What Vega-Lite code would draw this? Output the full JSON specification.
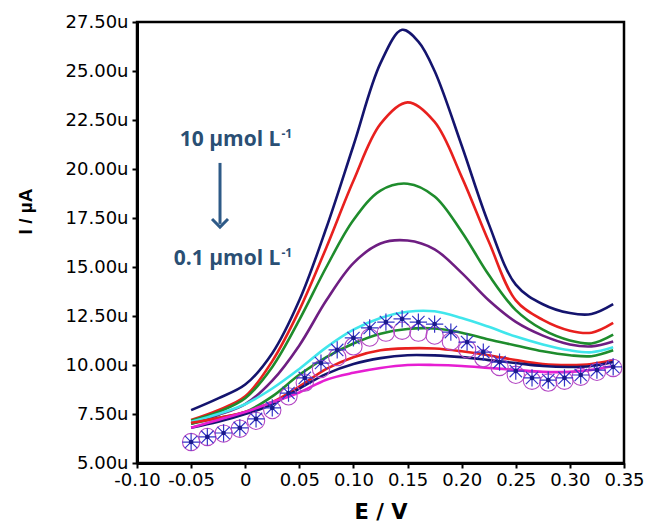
{
  "$schema": "https://vega.github.io/schema/vega-lite/v6.json",
  "autosize": "none",
  "width": 487,
  "height": 441,
  "padding": {"left": 137, "top": 22, "right": 22, "bottom": 65},
  "background": "white",
  "config": {
    "view": {"stroke": "black", "strokeWidth": 2.5},
    "axis": {"grid": false, "domainColor": "black", "domainWidth": 3, "tickColor": "black", "tickWidth": 2, "tickSize": 5, "labelFont": "DejaVu Sans", "labelFontSize": 18, "labelColor": "black", "labelOverlap": false, "labelFlush": false, "titleColor": "black"}
  },
  "datasets": {
    "lines": [
      {"s":"A","x":-0.05,"y":7.7},{"s":"A","x":-0.025,"y":8.3},{"s":"A","x":0,"y":9.0},{"s":"A","x":0.025,"y":10.6},{"s":"A","x":0.05,"y":13.3},{"s":"A","x":0.075,"y":17.0},{"s":"A","x":0.1,"y":21.2},{"s":"A","x":0.125,"y":25.4},{"s":"A","x":0.145,"y":27.1},{"s":"A","x":0.16,"y":26.5},{"s":"A","x":0.175,"y":25.0},{"s":"A","x":0.2,"y":21.2},{"s":"A","x":0.225,"y":17.2},{"s":"A","x":0.25,"y":14.1},{"s":"A","x":0.275,"y":13.1},{"s":"A","x":0.3,"y":12.65},{"s":"A","x":0.32,"y":12.6},{"s":"A","x":0.34,"y":13.1},
      {"s":"B","x":-0.05,"y":7.2},{"s":"B","x":-0.025,"y":7.7},{"s":"B","x":0,"y":8.4},{"s":"B","x":0.025,"y":10.2},{"s":"B","x":0.05,"y":12.8},{"s":"B","x":0.075,"y":16.0},{"s":"B","x":0.1,"y":19.4},{"s":"B","x":0.125,"y":22.3},{"s":"B","x":0.15,"y":23.4},{"s":"B","x":0.175,"y":22.4},{"s":"B","x":0.2,"y":19.6},{"s":"B","x":0.225,"y":16.3},{"s":"B","x":0.25,"y":13.3},{"s":"B","x":0.275,"y":12.3},{"s":"B","x":0.3,"y":11.75},{"s":"B","x":0.32,"y":11.65},{"s":"B","x":0.34,"y":12.15},
      {"s":"C","x":-0.05,"y":7.15},{"s":"C","x":-0.025,"y":7.6},{"s":"C","x":0,"y":8.3},{"s":"C","x":0.025,"y":9.9},{"s":"C","x":0.05,"y":12.3},{"s":"C","x":0.075,"y":15.0},{"s":"C","x":0.1,"y":17.4},{"s":"C","x":0.125,"y":18.9},{"s":"C","x":0.15,"y":19.25},{"s":"C","x":0.175,"y":18.6},{"s":"C","x":0.2,"y":16.8},{"s":"C","x":0.225,"y":14.6},{"s":"C","x":0.25,"y":12.8},{"s":"C","x":0.275,"y":11.8},{"s":"C","x":0.3,"y":11.25},{"s":"C","x":0.32,"y":11.1},{"s":"C","x":0.34,"y":11.55},
      {"s":"D","x":-0.05,"y":7.0},{"s":"D","x":-0.025,"y":7.45},{"s":"D","x":0,"y":8.0},{"s":"D","x":0.025,"y":9.2},{"s":"D","x":0.05,"y":11.0},{"s":"D","x":0.075,"y":13.3},{"s":"D","x":0.1,"y":15.2},{"s":"D","x":0.125,"y":16.2},{"s":"D","x":0.15,"y":16.35},{"s":"D","x":0.175,"y":15.9},{"s":"D","x":0.2,"y":14.7},{"s":"D","x":0.225,"y":13.3},{"s":"D","x":0.25,"y":12.2},{"s":"D","x":0.275,"y":11.5},{"s":"D","x":0.3,"y":11.05},{"s":"D","x":0.32,"y":10.95},{"s":"D","x":0.34,"y":11.2},
      {"s":"E","x":-0.05,"y":7.1},{"s":"E","x":-0.025,"y":7.5},{"s":"E","x":0,"y":8.0},{"s":"E","x":0.025,"y":8.8},{"s":"E","x":0.05,"y":9.8},{"s":"E","x":0.075,"y":10.9},{"s":"E","x":0.1,"y":11.8},{"s":"E","x":0.125,"y":12.4},{"s":"E","x":0.15,"y":12.72},{"s":"E","x":0.175,"y":12.74},{"s":"E","x":0.2,"y":12.4},{"s":"E","x":0.225,"y":11.95},{"s":"E","x":0.25,"y":11.45},{"s":"E","x":0.275,"y":11.05},{"s":"E","x":0.3,"y":10.75},{"s":"E","x":0.32,"y":10.65},{"s":"E","x":0.34,"y":10.9},
      {"s":"F","x":-0.05,"y":7.0},{"s":"F","x":-0.025,"y":7.3},{"s":"F","x":0,"y":7.6},{"s":"F","x":0.025,"y":8.4},{"s":"F","x":0.05,"y":9.5},{"s":"F","x":0.075,"y":10.4},{"s":"F","x":0.1,"y":11.1},{"s":"F","x":0.125,"y":11.6},{"s":"F","x":0.15,"y":11.84},{"s":"F","x":0.175,"y":11.86},{"s":"F","x":0.2,"y":11.65},{"s":"F","x":0.225,"y":11.3},{"s":"F","x":0.25,"y":11.0},{"s":"F","x":0.275,"y":10.7},{"s":"F","x":0.3,"y":10.5},{"s":"F","x":0.32,"y":10.45},{"s":"F","x":0.34,"y":10.75},
      {"s":"G","x":-0.05,"y":7.05},{"s":"G","x":-0.025,"y":7.3},{"s":"G","x":0,"y":7.6},{"s":"G","x":0.025,"y":8.1},{"s":"G","x":0.05,"y":8.9},{"s":"G","x":0.075,"y":9.8},{"s":"G","x":0.1,"y":10.4},{"s":"G","x":0.125,"y":10.75},{"s":"G","x":0.15,"y":10.85},{"s":"G","x":0.175,"y":10.84},{"s":"G","x":0.2,"y":10.7},{"s":"G","x":0.225,"y":10.5},{"s":"G","x":0.25,"y":10.25},{"s":"G","x":0.275,"y":10.05},{"s":"G","x":0.3,"y":10.0},{"s":"G","x":0.32,"y":10.05},{"s":"G","x":0.34,"y":10.25},
      {"s":"H","x":-0.05,"y":6.8},{"s":"H","x":-0.025,"y":7.1},{"s":"H","x":0,"y":7.5},{"s":"H","x":0.025,"y":8.0},{"s":"H","x":0.05,"y":8.8},{"s":"H","x":0.075,"y":9.55},{"s":"H","x":0.1,"y":10.05},{"s":"H","x":0.125,"y":10.35},{"s":"H","x":0.15,"y":10.5},{"s":"H","x":0.175,"y":10.49},{"s":"H","x":0.2,"y":10.4},{"s":"H","x":0.225,"y":10.25},{"s":"H","x":0.25,"y":10.1},{"s":"H","x":0.275,"y":9.95},{"s":"H","x":0.3,"y":9.9},{"s":"H","x":0.32,"y":9.95},{"s":"H","x":0.34,"y":10.15},
      {"s":"I","x":-0.05,"y":6.8},{"s":"I","x":-0.025,"y":7.2},{"s":"I","x":0,"y":7.6},{"s":"I","x":0.025,"y":8.1},{"s":"I","x":0.05,"y":8.6},{"s":"I","x":0.075,"y":9.25},{"s":"I","x":0.1,"y":9.6},{"s":"I","x":0.125,"y":9.85},{"s":"I","x":0.15,"y":10.0},{"s":"I","x":0.175,"y":10.0},{"s":"I","x":0.2,"y":9.95},{"s":"I","x":0.225,"y":9.85},{"s":"I","x":0.25,"y":9.75},{"s":"I","x":0.275,"y":9.65},{"s":"I","x":0.3,"y":9.65},{"s":"I","x":0.32,"y":9.75},{"s":"I","x":0.34,"y":9.95}
    ],
    "markers": [
      {"x":-0.05,"a":6.07,"c":6.07},{"x":-0.035,"a":6.33,"c":6.33},{"x":-0.02,"a":6.53,"c":6.5},{"x":-0.005,"a":6.79,"c":6.75},{"x":0.01,"a":7.25,"c":7.15},{"x":0.025,"a":7.81,"c":7.7},{"x":0.04,"a":8.57,"c":8.4},{"x":0.055,"a":9.34,"c":9.1},{"x":0.07,"a":10.1,"c":9.8},{"x":0.085,"a":10.77,"c":10.4},{"x":0.1,"a":11.38,"c":10.95},{"x":0.115,"a":11.89,"c":11.4},{"x":0.13,"a":12.19,"c":11.65},{"x":0.145,"a":12.35,"c":11.75},{"x":0.16,"a":12.19,"c":11.65},{"x":0.175,"a":12.09,"c":11.5},{"x":0.19,"a":11.68,"c":11.2},{"x":0.205,"a":11.17,"c":10.8},{"x":0.22,"a":10.66,"c":10.35},{"x":0.235,"a":10.15,"c":9.9},{"x":0.25,"a":9.69,"c":9.5},{"x":0.265,"a":9.34,"c":9.2},{"x":0.28,"a":9.23,"c":9.1},{"x":0.295,"a":9.34,"c":9.2},{"x":0.31,"a":9.49,"c":9.4},{"x":0.325,"a":9.74,"c":9.65},{"x":0.34,"a":9.9,"c":9.85}
    ],
    "labels": [
      {"x":0.0325,"y":21.48,"t":"10 µmol L"},
      {"x":0.0325,"y":15.41,"t":"0.1 µmol L"}
    ],
    "sups": [
      {"x":0.0335,"y":21.78,"t":"-1"},
      {"x":0.0335,"y":15.72,"t":"-1"}
    ],
    "arrow": [
      {"x":-0.0233,"y1":20.31,"y2":17.2,"tip":17.04}
    ]
  },
  "layer": [
    {
      "data": {"name": "lines"},
      "mark": {"type": "line", "interpolate": "catmull-rom", "strokeWidth": 2.6},
      "encoding": {
        "x": {"field": "x", "type": "quantitative", "scale": {"domain": [-0.1, 0.35], "nice": false, "zero": false},
          "axis": {"values": [-0.1,-0.05,0,0.05,0.1,0.15,0.2,0.25,0.3,0.35], "labelExpr": "abs(datum.value) < 1e-9 ? '0' : (datum.value < 0 ? '-' : '') + format(abs(datum.value), '.2f')", "labelPadding": 3, "title": "E / V", "titleFont": "DejaVu Sans", "titleFontWeight": "bold", "titleFontSize": 21, "titleY": 49, "titleBaseline": "middle"}},
        "y": {"field": "y", "type": "quantitative", "scale": {"domain": [5, 27.5], "nice": false, "zero": false},
          "axis": {"values": [5,7.5,10,12.5,15,17.5,20,22.5,25,27.5], "labelExpr": "format(datum.value, '.2f') + 'u'", "labelPadding": 4, "title": "I / µA", "titleFont": "Liberation Sans", "titleFontWeight": "bold", "titleFontSize": 19, "titleX": -112, "titleY": 189, "titleBaseline": "middle", "titleAlign": "center"}},
        "color": {"field": "s", "type": "nominal", "legend": null,
          "scale": {"domain": ["A","B","C","D","E","F","G","H","I"], "range": ["#14146e","#e8201e","#1e8c2c","#6e1e82","#40e6ec","#1e8c2c","#e8201e","#14146e","#e61ed2"]}}
      }
    },
    {
      "data": {"name": "markers"},
      "mark": {"type": "point", "shape": "circle", "filled": false, "stroke": "#b448c4", "strokeWidth": 1.1, "size": 300, "opacity": 1},
      "encoding": {"x": {"field": "x", "type": "quantitative"}, "y": {"field": "c", "type": "quantitative"}}
    },
    {
      "data": {"name": "markers"},
      "mark": {"type": "point", "shape": "M-1,0L1,0M0,-1L0,1M-0.71,-0.71L0.71,0.71M-0.71,0.71L0.71,-0.71", "filled": false, "stroke": "#3434c8", "strokeWidth": 1.2, "size": 300, "opacity": 1},
      "encoding": {"x": {"field": "x", "type": "quantitative"}, "y": {"field": "a", "type": "quantitative"}}
    },
    {
      "data": {"name": "markers"},
      "mark": {"type": "point", "shape": "circle", "filled": true, "color": "#1a1a8c", "size": 22, "opacity": 1},
      "encoding": {"x": {"field": "x", "type": "quantitative"}, "y": {"field": "a", "type": "quantitative"}}
    },
    {
      "data": {"name": "labels"},
      "mark": {"type": "text", "align": "right", "baseline": "middle", "font": "Open Sans", "fontWeight": "bold", "fontSize": 21, "color": "#2a4f74"},
      "encoding": {"x": {"field": "x", "type": "quantitative"}, "y": {"field": "y", "type": "quantitative"}, "text": {"field": "t"}}
    },
    {
      "data": {"name": "sups"},
      "mark": {"type": "text", "align": "left", "baseline": "middle", "font": "Open Sans", "fontWeight": "bold", "fontSize": 12, "color": "#2a4f74"},
      "encoding": {"x": {"field": "x", "type": "quantitative"}, "y": {"field": "y", "type": "quantitative"}, "text": {"field": "t"}}
    },
    {
      "data": {"name": "arrow"},
      "mark": {"type": "rule", "strokeWidth": 3, "color": "#2e5a87"},
      "encoding": {"x": {"field": "x", "type": "quantitative"}, "y": {"field": "y1", "type": "quantitative"}, "y2": {"field": "y2"}}
    },
    {
      "data": {"name": "arrow"},
      "mark": {"type": "point", "shape": "M-1,-1L0,0L1,-1", "filled": false, "stroke": "#2e5a87", "strokeWidth": 3, "size": 256, "opacity": 1},
      "encoding": {"x": {"field": "x", "type": "quantitative"}, "y": {"field": "tip", "type": "quantitative"}}
    }
  ]
}
